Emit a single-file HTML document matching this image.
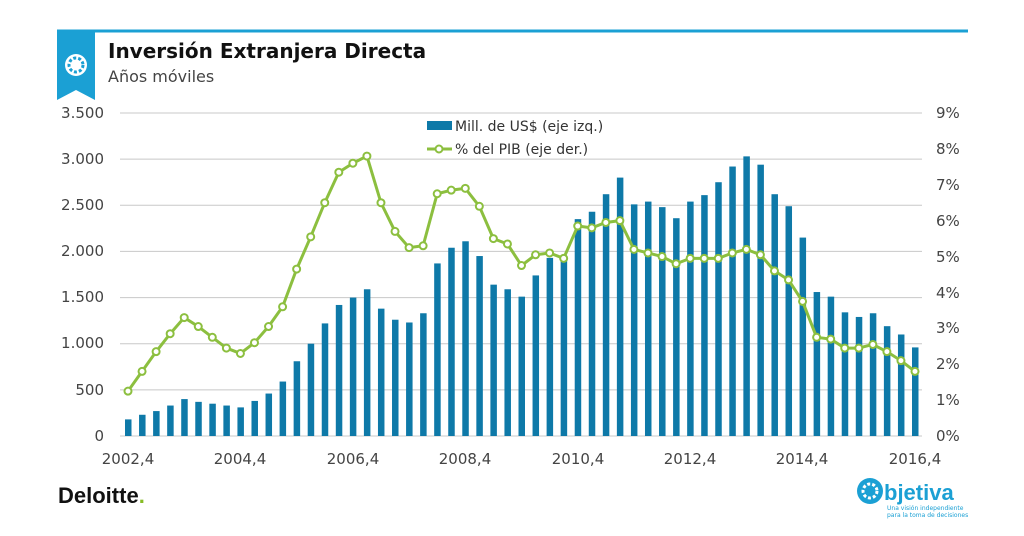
<!DOCTYPE html>
<html><head><meta charset="utf-8"><style>
body{margin:0;background:#fff;width:1024px;height:531px;overflow:hidden;font-family:"Liberation Sans","DejaVu Sans",sans-serif}
</style></head><body>
<svg id="s" width="1024" height="531" xmlns="http://www.w3.org/2000/svg" font-family="DejaVu Sans, Liberation Sans, sans-serif">
<line x1="57" y1="31" x2="968" y2="31" stroke="#1ba0d4" stroke-width="3"/>
<polygon points="57,30 95,30 95,100 76,90 57,100" fill="#1ba0d4"/>
<circle cx="76" cy="65" r="11" fill="#fff"/>
<circle cx="76" cy="65" r="7" fill="none" stroke="#1ba0d4" stroke-width="3" stroke-dasharray="3 2"/>
<text x="108" y="58" font-size="20" font-weight="bold" fill="#111">Inversión Extranjera Directa</text>
<text x="108" y="82" font-size="16" fill="#444">Años móviles</text>
<g id="grid" stroke="#c8c8c8" stroke-width="1"></g>
<g id="bars" fill="#0e79a8"></g>
<g font-size="15" fill="#444" text-anchor="end">
<text x="104" y="118">3.500</text><text x="104" y="164">3.000</text><text x="104" y="210">2.500</text><text x="104" y="256">2.000</text><text x="104" y="302">1.500</text><text x="104" y="348">1.000</text><text x="104" y="395">500</text><text x="104" y="441">0</text>
</g>
<g font-size="15" fill="#444" text-anchor="start">
<text x="936" y="118">9%</text><text x="936" y="154">8%</text><text x="936" y="190">7%</text><text x="936" y="226">6%</text><text x="936" y="262">5%</text><text x="936" y="298">4%</text><text x="936" y="333">3%</text><text x="936" y="369">2%</text><text x="936" y="405">1%</text><text x="936" y="441">0%</text>
</g>
<g font-size="15" fill="#444" text-anchor="middle">
<text x="128" y="464">2002,4</text><text x="240" y="464">2004,4</text><text x="353" y="464">2006,4</text><text x="465" y="464">2008,4</text><text x="578" y="464">2010,4</text><text x="690" y="464">2012,4</text><text x="802" y="464">2014,4</text><text x="915" y="464">2016,4</text>
</g>
<polyline id="ln" fill="none" stroke="#8cbf3f" stroke-width="3" stroke-linejoin="round"/>
<g id="dots" fill="#fff" stroke="#8cbf3f" stroke-width="2"></g>
<rect x="427" y="121" width="25" height="9" fill="#0e79a8"/>
<text x="455" y="131" font-size="14" fill="#333">Mill. de US$ (eje izq.)</text>
<line x1="427" y1="149" x2="452" y2="149" stroke="#8cbf3f" stroke-width="3"/>
<circle cx="439" cy="149" r="3.5" fill="#fff" stroke="#8cbf3f" stroke-width="2"/>
<text x="455" y="154" font-size="14" fill="#333">% del PIB (eje der.)</text>
<text x="58" y="503" font-size="22" font-weight="bold" fill="#111" font-family="Liberation Sans, sans-serif">Deloitte<tspan fill="#86bc25">.</tspan></text>
<circle cx="870" cy="491" r="13" fill="#1ba0d4"/>
<circle cx="870" cy="491" r="7" fill="none" stroke="#fff" stroke-width="3" stroke-dasharray="3 2"/>
<text x="884" y="500" font-size="22" font-weight="bold" fill="#1ba0d4" font-family="Liberation Sans, sans-serif">bjetiva</text>
<text x="887" y="510" font-size="6" fill="#1ba0d4">Una visión independiente</text>
<text x="887" y="517" font-size="6" fill="#1ba0d4">para la toma de decisiones</text>
</svg>
<script>
var bars=[180,230,270,330,400,370,350,330,310,380,460,590,810,1000,1220,1420,1500,1590,1380,1260,1230,1330,1870,2040,2110,1950,1640,1590,1510,1740,1930,1930,2350,2430,2620,2800,2510,2540,2480,2360,2540,2610,2750,2920,3030,2940,2620,2490,2150,1560,1510,1340,1290,1330,1190,1100,960];
var pct=[1.25,1.8,2.35,2.85,3.3,3.05,2.75,2.45,2.3,2.6,3.05,3.6,4.65,5.55,6.5,7.35,7.6,7.8,6.5,5.7,5.25,5.3,6.75,6.85,6.9,6.4,5.5,5.35,4.75,5.05,5.1,4.95,5.85,5.8,5.95,6.0,5.2,5.1,5.0,4.8,4.95,4.95,4.95,5.1,5.2,5.05,4.6,4.35,3.75,2.75,2.7,2.45,2.45,2.55,2.35,2.1,1.8];
(function(){
var NS="http://www.w3.org/2000/svg",y0=436,yTop=113,H=y0-yTop;
function el(t,a,p){var e=document.createElementNS(NS,t);for(var k in a)e.setAttribute(k,a[k]);document.getElementById(p).appendChild(e);}
for(var i=0;i<8;i++){var y=yTop+i*H/7;el('line',{x1:120,x2:922,y1:y,y2:y},'grid');}
var pts=[];
for(var i=0;i<57;i++){var x=128+i*(915-128)/56;var h=bars[i]/3500*H;el('rect',{x:x-3,y:y0-h,width:6.5,height:h},'bars');var py=y0-pct[i]/9*H;pts.push(x+','+py);el('circle',{cx:x,cy:py,r:3.5},'dots');}
document.getElementById('ln').setAttribute('points',pts.join(' '));
})();
</script>
</body></html>
